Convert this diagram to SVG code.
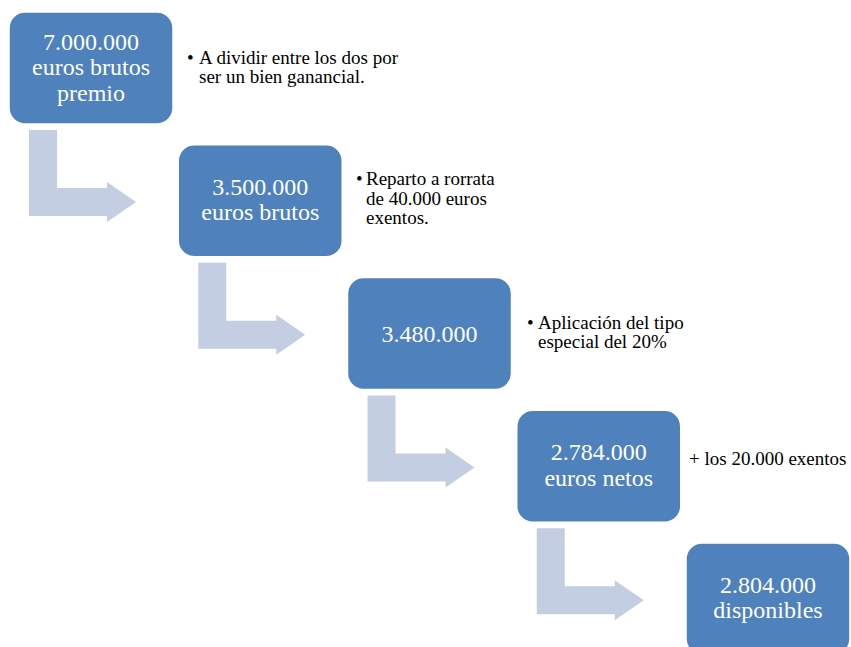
<svg xmlns="http://www.w3.org/2000/svg" width="851" height="647" viewBox="0 0 851 647">
<style>
.box{fill:#4F81BD;stroke:#FFFFFF;stroke-width:1.5}
.arr{fill:#C4CEE2}
.bt{font-family:"Liberation Serif",serif;font-size:24px;fill:#FFFFFF;text-anchor:middle}
.st{font-family:"Liberation Serif",serif;font-size:19px;fill:#000000}
</style>
<defs>
<path id="bend" d="M29,130 H57 V188 H107 V182 L136,202 L107,222 V216 H29 Z"/>
</defs>
<rect width="851" height="647" fill="#FFFFFF"/>
<g id="connectors">
<use href="#bend" class="arr"/>
<use href="#bend" class="arr" transform="translate(169.25,132.75)"/>
<use href="#bend" class="arr" transform="translate(338.5,265.5)"/>
<use href="#bend" class="arr" transform="translate(507.75,398.25)"/>
</g>
<g id="node1">
<rect class="box" x="9" y="12" width="164" height="112" rx="16"/>
<text class="bt" x="91" y="49.5">7.000.000</text>
<text class="bt" x="91" y="75">euros brutos</text>
<text class="bt" x="91" y="100.5">premio</text>
</g>
<g id="note1">
<text class="st" x="187" y="64">•</text>
<text class="st" x="199" y="64">A dividir entre los dos por</text>
<text class="st" x="199" y="83">ser un bien ganancial.</text>
</g>
<g id="node2">
<rect class="box" x="178.25" y="144.75" width="164" height="112" rx="16"/>
<text class="bt" x="260.25" y="194.5">3.500.000</text>
<text class="bt" x="260.25" y="220">euros brutos</text>
</g>
<g id="note2">
<text class="st" x="356" y="185">•</text>
<text class="st" x="366" y="185">Reparto a rorrata</text>
<text class="st" x="366" y="205">de 40.000 euros</text>
<text class="st" x="366" y="224">exentos.</text>
</g>
<g id="node3">
<rect class="box" x="347.5" y="277.5" width="164" height="112" rx="16"/>
<text class="bt" x="429.5" y="342">3.480.000</text>
</g>
<g id="note3">
<text class="st" x="527" y="329">•</text>
<text class="st" x="538" y="329">Aplicación del tipo</text>
<text class="st" x="538" y="348">especial del 20%</text>
</g>
<g id="node4">
<rect class="box" x="516.75" y="410.25" width="164" height="112" rx="16"/>
<text class="bt" x="598.75" y="460">2.784.000</text>
<text class="bt" x="598.75" y="485.5">euros netos</text>
</g>
<g id="note4">
<text class="st" x="689" y="465">+ los 20.000 exentos</text>
</g>
<g id="node5">
<rect class="box" x="686" y="543" width="164" height="112" rx="16"/>
<text class="bt" x="768" y="592.5">2.804.000</text>
<text class="bt" x="768" y="618">disponibles</text>
</g>
</svg>
